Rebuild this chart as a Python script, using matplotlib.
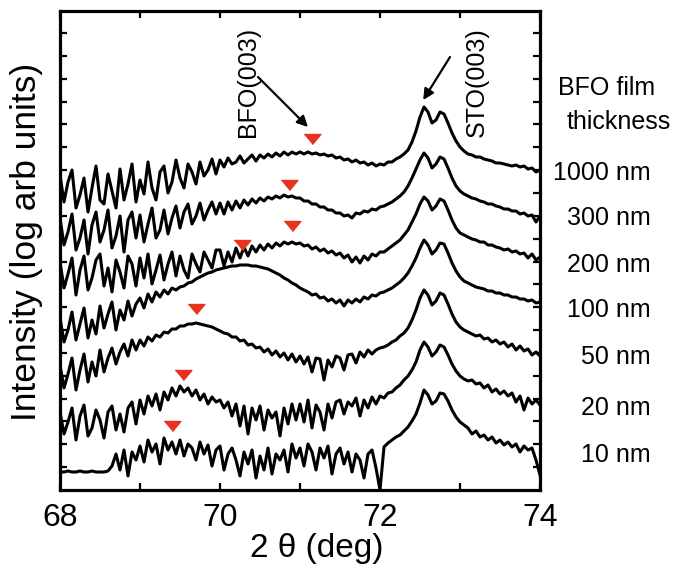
import numpy as np
import matplotlib
matplotlib.use("Agg")
import matplotlib.pyplot as plt

plt.rcParams["font.family"] = ["Liberation Sans", "DejaVu Sans"]

# 2theta scan grid (deg)
two_theta = np.linspace(68.0, 74.0, 121)

# offset log intensity (arb units), top to bottom
i_1000 = [
    325, 298, 318, 330, 292, 305, 322, 288, 312, 334,
    300, 296, 326, 309, 292, 331, 300, 316, 336, 298,
    320, 306, 338, 312, 300, 328, 334, 307, 318, 340,
    322, 312, 336, 328, 316, 338, 324, 330, 341, 326,
    340, 333, 342, 336, 338, 344, 337, 341, 345, 339,
    345, 342, 346, 343, 347, 344, 348, 345, 348, 346,
    348, 346, 348, 346, 347, 345, 346, 344, 345, 342,
    343, 340, 341, 338, 340, 337, 338, 335, 337, 334,
    336, 335, 338, 338, 341, 343, 346, 350, 358, 369,
    383, 393, 388, 377, 380, 388, 386, 377, 367, 359,
    353, 349, 346, 345, 343, 343, 341, 340, 339, 337,
    337, 336, 335, 334, 335, 333, 334, 331, 332, 328,
    330,
]
i_300 = [
    282, 255, 268, 286, 250, 262, 280, 246, 275, 288,
    258, 270, 290, 252, 264, 284, 248, 280, 288, 262,
    285, 258, 276, 292, 262, 270, 290, 266, 282, 294,
    272, 288, 296, 276, 284, 297, 280, 290, 298, 286,
    297, 286, 298, 290, 299, 292, 300, 295, 301, 297,
    302, 299, 303, 301, 304, 302, 305, 303, 304, 302,
    302, 299, 299, 296, 296, 293, 293, 290, 290, 287,
    287, 284, 285, 282, 287, 286, 289, 288, 291, 290,
    293, 294, 296, 298, 301, 304, 308, 314, 322, 331,
    340, 347, 342, 332, 336, 343, 341, 332, 322, 314,
    309, 306, 304, 302, 301, 299, 298, 296, 296, 294,
    293, 291, 291, 289, 289, 286, 287, 284, 285, 278,
    284,
]
i_200 = [
    238, 212, 226, 242, 205, 230, 244, 210, 222, 240,
    246, 214, 232, 208, 240, 228, 212, 244, 236, 214,
    242, 222, 246, 216, 230, 245, 220, 236, 248, 224,
    244, 230, 222, 246, 236, 228, 248, 240, 232, 250,
    250, 234, 248, 238, 252, 242, 253, 244, 254, 248,
    255, 250, 256, 252, 257, 254, 258, 256, 258, 256,
    257, 254, 255, 251, 253, 249, 251, 247, 249, 245,
    247, 242, 245, 238, 243, 237, 244, 240, 246, 244,
    248, 248, 251, 254, 257, 260, 265, 270, 278, 286,
    296, 303, 299, 290, 294, 301, 299, 290, 280, 272,
    267, 265, 263, 261, 260, 258, 258, 255, 255, 253,
    252, 250, 251, 248, 249, 246, 247, 242, 246, 240,
    243,
]
i_100 = [
    182, 158, 170, 188, 160, 176, 192, 162, 180, 166,
    194, 172, 186, 198, 170, 190, 180, 199, 184, 196,
    202, 192, 206, 198, 208, 203, 210, 206, 212, 210,
    213, 214, 217, 218, 221, 223, 225, 227, 228, 230,
    231, 232, 233, 234, 234, 235, 235, 235, 234, 234,
    233, 232, 231, 229, 227, 225, 222, 220, 217, 215,
    212, 210, 208, 205, 206, 202, 203, 199, 201, 197,
    200, 194, 200, 197, 201, 198, 203, 201, 205, 204,
    207, 208, 210, 212, 215, 218, 222, 227, 234, 242,
    252, 260, 255, 246, 250, 257, 256, 247, 237, 229,
    223, 219, 217, 215, 213, 212, 211, 209, 209, 207,
    207, 205, 205, 203, 203, 201, 201, 199, 200, 197,
    198,
]
i_50 = [
    135, 112, 126, 142, 110, 130, 146, 118, 138, 124,
    150, 128, 142, 152, 136, 148, 156, 144, 160, 150,
    160, 154, 163, 159, 165, 163, 168, 167, 171, 171,
    174, 174, 176, 176, 177, 176, 175, 174, 173, 171,
    169, 167, 166, 163, 163, 159, 160, 155, 156, 152,
    153, 148, 151, 145, 149, 143, 147, 140, 146, 138,
    144, 136, 143, 128, 142, 141, 120, 140, 133, 144,
    142, 130, 145, 146, 137, 148, 143, 150, 146, 150,
    152, 153, 155, 158, 160, 164, 167, 172, 180, 190,
    202, 210, 205, 195, 199, 207, 205, 196, 186, 178,
    173, 170, 168, 166, 164, 165, 161, 162, 158, 160,
    156, 158, 153, 156, 150, 154, 149, 151, 145, 148,
    144,
]
i_20 = [
    88, 66, 78, 92, 60, 84, 95, 64, 72, 90,
    80, 62, 88, 94, 70, 86, 68, 92, 98, 76,
    100, 86, 104, 94, 106, 90, 108, 100, 112, 104,
    114, 108, 112, 104, 110, 100, 106, 96, 103, 98,
    100, 92, 98, 84, 96, 74, 94, 66, 92, 80,
    94, 70, 90, 82, 88, 64, 92, 76, 96, 80,
    96, 78, 100, 72, 95, 88, 70, 96, 82, 98,
    100, 86, 98, 94, 102, 84, 100, 92, 103, 96,
    104, 102, 107, 108, 112, 115, 120, 124, 130, 138,
    150, 158, 153, 144, 148, 155, 153, 145, 136, 129,
    124, 121, 119, 120, 116, 117, 112, 115, 108, 111,
    106, 109, 104, 107, 98, 104, 90, 102, 96, 100,
    95,
]
i_10 = [
    28, 28, 29, 28, 28, 29, 28, 28, 29, 28,
    28, 28, 29, 34, 46, 30, 50, 24, 48, 40,
    54, 38, 60, 48, 56, 36, 62, 50, 58, 46,
    60, 44, 56, 52, 40, 58, 46, 55, 34, 50,
    54, 30, 46, 52, 40, 24, 48, 36, 50, 22,
    44, 30, 52, 26, 46, 40, 50, 28, 56, 42,
    52, 34, 56, 48, 30, 52, 42, 54, 26, 46,
    52, 36, 48, 28, 46, 40, 22, 46, 50, 32,
    10, 53, 57, 60, 63, 65, 69, 73, 79, 86,
    97, 110, 105, 96, 99, 107, 106, 99, 90, 83,
    78, 75, 72, 66, 69, 63, 65, 60, 63, 57,
    60, 55, 58, 53, 56, 48, 54, 50, 52, 40,
    25,
]

curves = [i_1000, i_300, i_200, i_100, i_50, i_20, i_10]
thickness = ["1000 nm", "300 nm", "200 nm", "100 nm", "50 nm", "20 nm", "10 nm"]

# BFO(003) peak markers
bfo_peak_x = [71.15, 70.86, 70.90, 70.28, 69.70, 69.54, 69.40]
bfo_peak_y = [361, 315, 274, 255, 191, 125, 74]

RED = "#e8321f"

fig = plt.figure(figsize=(6.81, 5.73), dpi=100)
fig.patch.set_facecolor("white")
ax = fig.add_axes([60 / 681, 83 / 573, 480 / 681, 479 / 573])

for y in curves:
    ax.plot(two_theta, y, color="black", lw=2.2)

tri = [(-1, 0.6), (1, 0.6), (0, -0.6)]
ax.plot(bfo_peak_x, bfo_peak_y, ls="none", marker=tri, ms=12,
        color=RED, mec=RED)

ax.set_xlim(68, 74)
ax.set_ylim(10, 489)
ax.set_xticks([68, 70, 72, 74])
ax.set_xticks([69, 71, 73], minor=True)
ax.set_yticks(10 + 22.85 * np.arange(1, 21))
ax.set_yticklabels([])
ax.tick_params(which="both", direction="in", top=True, right=True,
               length=5, width=1.6)
ax.tick_params(axis="x", labelsize=23, pad=9)
for s in ax.spines.values():
    s.set_linewidth(2.3)

ax.text(70.35, 418, "BFO(003)", rotation=90, ha="center", va="center",
        fontsize=18)
ax.text(73.21, 418, "STO(003)", rotation=90, ha="center", va="center",
        fontsize=18)
ax.annotate("", xy=(71.10, 373), xytext=(70.475, 423),
            arrowprops=dict(arrowstyle="-|>", lw=1.6, color="black",
                            mutation_scale=16, shrinkA=0, shrinkB=0))
ax.annotate("", xy=(72.54, 400), xytext=(72.875, 443),
            arrowprops=dict(arrowstyle="-|>", lw=1.6, color="black",
                            mutation_scale=16, shrinkA=0, shrinkB=0))

fig.text(27 / 681, 1 - 242 / 573, "Intensity (log arb units)", rotation=90,
         ha="center", va="center", fontsize=25.5)
fig.text(317 / 681, 1 - 549 / 573, "2 θ (deg)", ha="center", va="center",
         fontsize=24)

fig.text(558 / 681, 1 - 88 / 573, "BFO film", ha="left", va="center",
         fontsize=18)
fig.text(567 / 681, 1 - 122 / 573, "thickness", ha="left", va="center",
         fontsize=18)
label_y = [173, 218, 265, 310, 357, 408, 455]
for name, py in zip(thickness, label_y):
    fig.text(651 / 681, 1 - py / 573, name, ha="right", va="center",
             fontsize=18)

fig.savefig("out.png", dpi=100)
